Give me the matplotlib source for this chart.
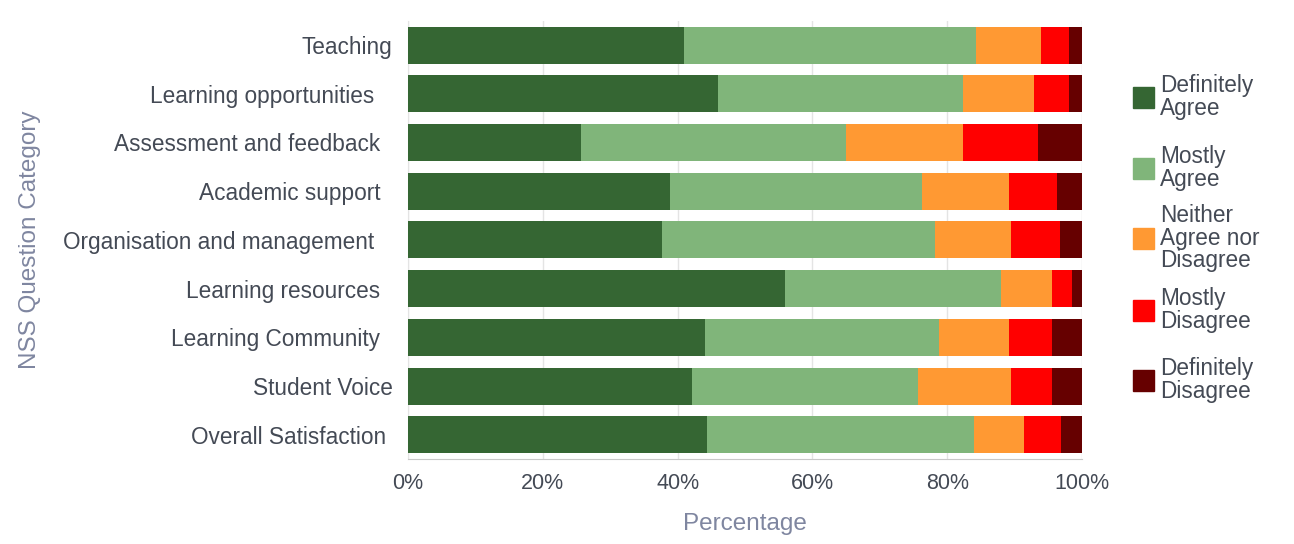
import matplotlib.pyplot as plt
from matplotlib.patches import Rectangle
import numpy as np

plt.rcParams['font.family'] = ['Liberation Sans', 'DejaVu Sans']

# categories (trailing spaces as in the original labels)
categories = ["Teaching", "Learning opportunities   ", "Assessment and feedback  ",
              "Academic support  ", "Organisation and management   ",
              "Learning resources  ", "Learning Community  ", "Student Voice",
              "Overall Satisfaction "]

# percentages per response
definitely_agree = [41.0, 46.0, 25.7, 38.9, 37.7, 56.0, 44.1, 42.2, 44.4]
mostly_agree = [43.3, 36.4, 39.3, 37.4, 40.5, 32.0, 34.7, 33.5, 39.6]
neither = [9.6, 10.5, 17.4, 12.9, 11.3, 7.6, 10.4, 13.8, 7.4]
mostly_disagree = [4.1, 5.1, 11.1, 7.1, 7.2, 2.9, 6.4, 6.1, 5.5]
definitely_disagree = [2.0, 2.0, 6.5, 3.7, 3.3, 1.5, 4.4, 4.4, 3.1]

series_labels = ["Definitely\nAgree", "Mostly\nAgree", "Neither\nAgree nor\nDisagree",
                 "Mostly\nDisagree", "Definitely\nDisagree"]
colors = ['#356633', '#80b57a', '#ff9933', '#ff0000', '#660000']

tick_col = '#444a55'
title_col = '#7f86a0'

fig = plt.figure(figsize=(12.94, 5.44), dpi=100)
ax = fig.add_axes([0.3153, 0.156, 0.5209, 0.806])

series = [definitely_agree, mostly_agree, neither, mostly_disagree, definitely_disagree]
y = np.arange(len(categories))
left = np.zeros(len(categories))
for vals, col, lab in zip(series, colors, series_labels):
    vals = np.array(vals)
    ax.barh(y, vals, left=left, height=0.76, color=col, label=lab, zorder=3)
    left += vals

ax.set_ylim(len(categories) - 0.5, -0.5)
ax.set_xlim(0, 100)
ax.set_xticks([0, 20, 40, 60, 80, 100])
ax.set_xticklabels(['0%', '20%', '40%', '60%', '80%', '100%'])
ax.set_yticks(y)
ax.set_yticklabels(categories)
ax.tick_params(axis='x', length=0, pad=10, labelsize=15.5, labelcolor=tick_col)
ax.tick_params(axis='y', length=0, pad=11, labelsize=16.3, labelcolor=tick_col)
ax.grid(axis='x', color='#e4e4e4', linewidth=1, zorder=0)
for s in ['top', 'right']:
    ax.spines[s].set_visible(False)
ax.spines['left'].set_color('#e4e4e4')
ax.spines['bottom'].set_color('#c8c8c8')

ax.set_xlabel('Percentage', fontsize=17.5, color=title_col, labelpad=14)
fig.text(0.023, 1 - 240 / 544, 'NSS Question Category', rotation=90, fontsize=17.5,
         color=title_col, ha='center', va='center')

# legend drawn by hand, evenly spaced entries
centers = [97, 168, 238, 310, 380]
H, W = 544, 1294
for c, col, lab in zip(centers, colors, series_labels):
    yc = 1 - c / H
    fig.add_artist(Rectangle((1133 / W, yc - 11 / H), 21 / W, 21 / H,
                             color=col, transform=fig.transFigure))
    fig.text(1160 / W, yc, lab, fontsize=16.3, color=tick_col, ha='left',
             va='center', linespacing=0.97)

fig.savefig('out.png', dpi=100)
